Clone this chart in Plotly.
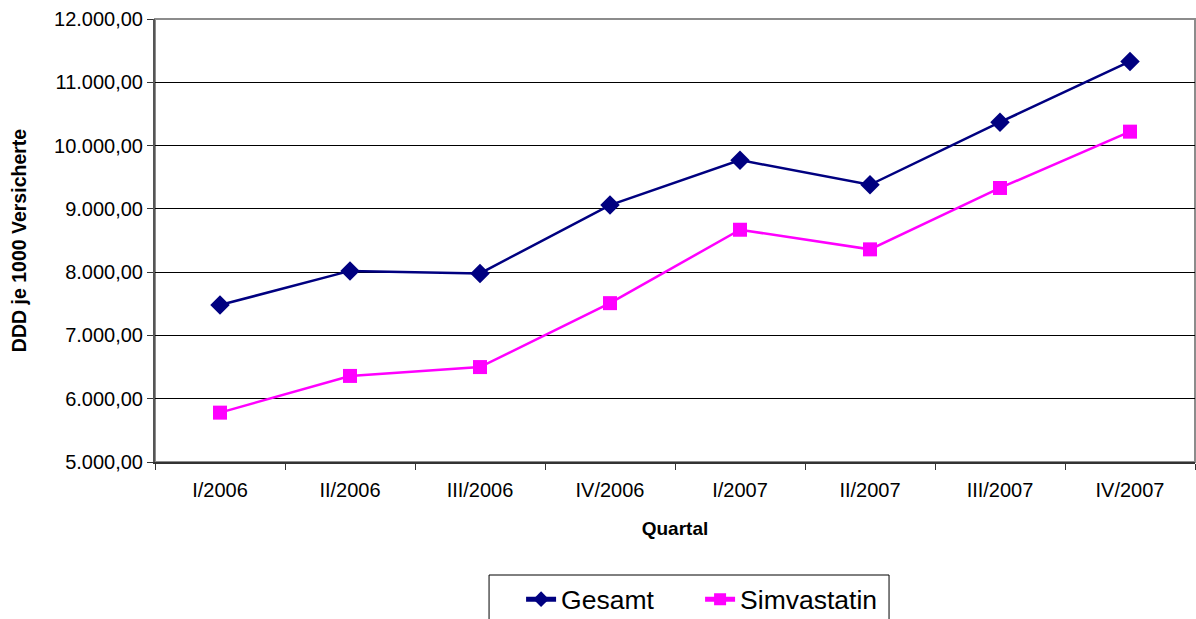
import plotly.graph_objects as go

quartale = ["I/2006", "II/2006", "III/2006", "IV/2006", "I/2007", "II/2007", "III/2007", "IV/2007"]
gesamt = [7480, 8020, 7980, 9060, 9770, 9380, 10370, 11330]
simvastatin = [5780, 6360, 6500, 7510, 8670, 8360, 9330, 10220]

y_ticks = [5000, 6000, 7000, 8000, 9000, 10000, 11000, 12000]
y_tick_text = ["5.000,00", "6.000,00", "7.000,00", "8.000,00", "9.000,00",
               "10.000,00", "11.000,00", "12.000,00"]

font_family = "Liberation Sans, Arial, sans-serif"

fig = go.Figure()
fig.add_trace(go.Scatter(
    x=quartale, y=gesamt, name="Gesamt", mode="lines+markers",
    line=dict(color="#000080", width=2.5),
    marker=dict(symbol="diamond", size=15, color="#000080"),
))
fig.add_trace(go.Scatter(
    x=quartale, y=simvastatin, name="Simvastatin", mode="lines+markers",
    line=dict(color="#FF00FF", width=2.5),
    marker=dict(symbol="square", size=14, color="#FF00FF"),
))

# plot-area frame
fig.add_shape(type="rect", xref="paper", yref="paper", x0=0, y0=0, x1=1, y1=1,
              line=dict(color="#8c8c8c", width=2), layer="below")
# legend frame (runs off the bottom edge of the page)
fig.add_shape(type="rect", xref="paper", yref="paper",
              x0=0.3212, x1=0.7058, y0=-0.40, y1=-0.2551,
              line=dict(color="black", width=1))

fig.update_layout(
    width=1196, height=619,
    margin=dict(l=155, r=1, t=19, b=157, autoexpand=False),
    paper_bgcolor="white", plot_bgcolor="white",
    font=dict(family=font_family, size=20, color="black"),
    showlegend=True,
    legend=dict(
        orientation="h", x=0.352, y=-0.256, xanchor="left", yanchor="top",
        borderwidth=0, bgcolor="rgba(0,0,0,0)", font=dict(size=26.5),
        itemsizing="constant", tracegroupgap=0, entrywidth=134,
    ),
    xaxis=dict(
        type="category", tickson="boundaries", ticks="outside", ticklen=6,
        tickcolor="#333", showgrid=False, showline=True, linecolor="#333",
        linewidth=2, tickfont=dict(size=20), ticklabelstandoff=9,
        title=dict(text="<b>Quartal</b>", font=dict(size=19), standoff=22),
        range=[-0.5, 7.5],
    ),
    yaxis=dict(
        range=[5000, 12000], tickvals=y_ticks, ticktext=y_tick_text,
        ticks="outside", ticklen=6, tickcolor="#333", showline=True,
        linecolor="#555", linewidth=2, showgrid=True, gridcolor="black",
        gridwidth=1, tickfont=dict(size=20), zeroline=False,
        title=dict(text="<b>DDD je 1000 Versicherte</b>", font=dict(size=19.5), standoff=22),
    ),
)

fig.write_html("out.html")
